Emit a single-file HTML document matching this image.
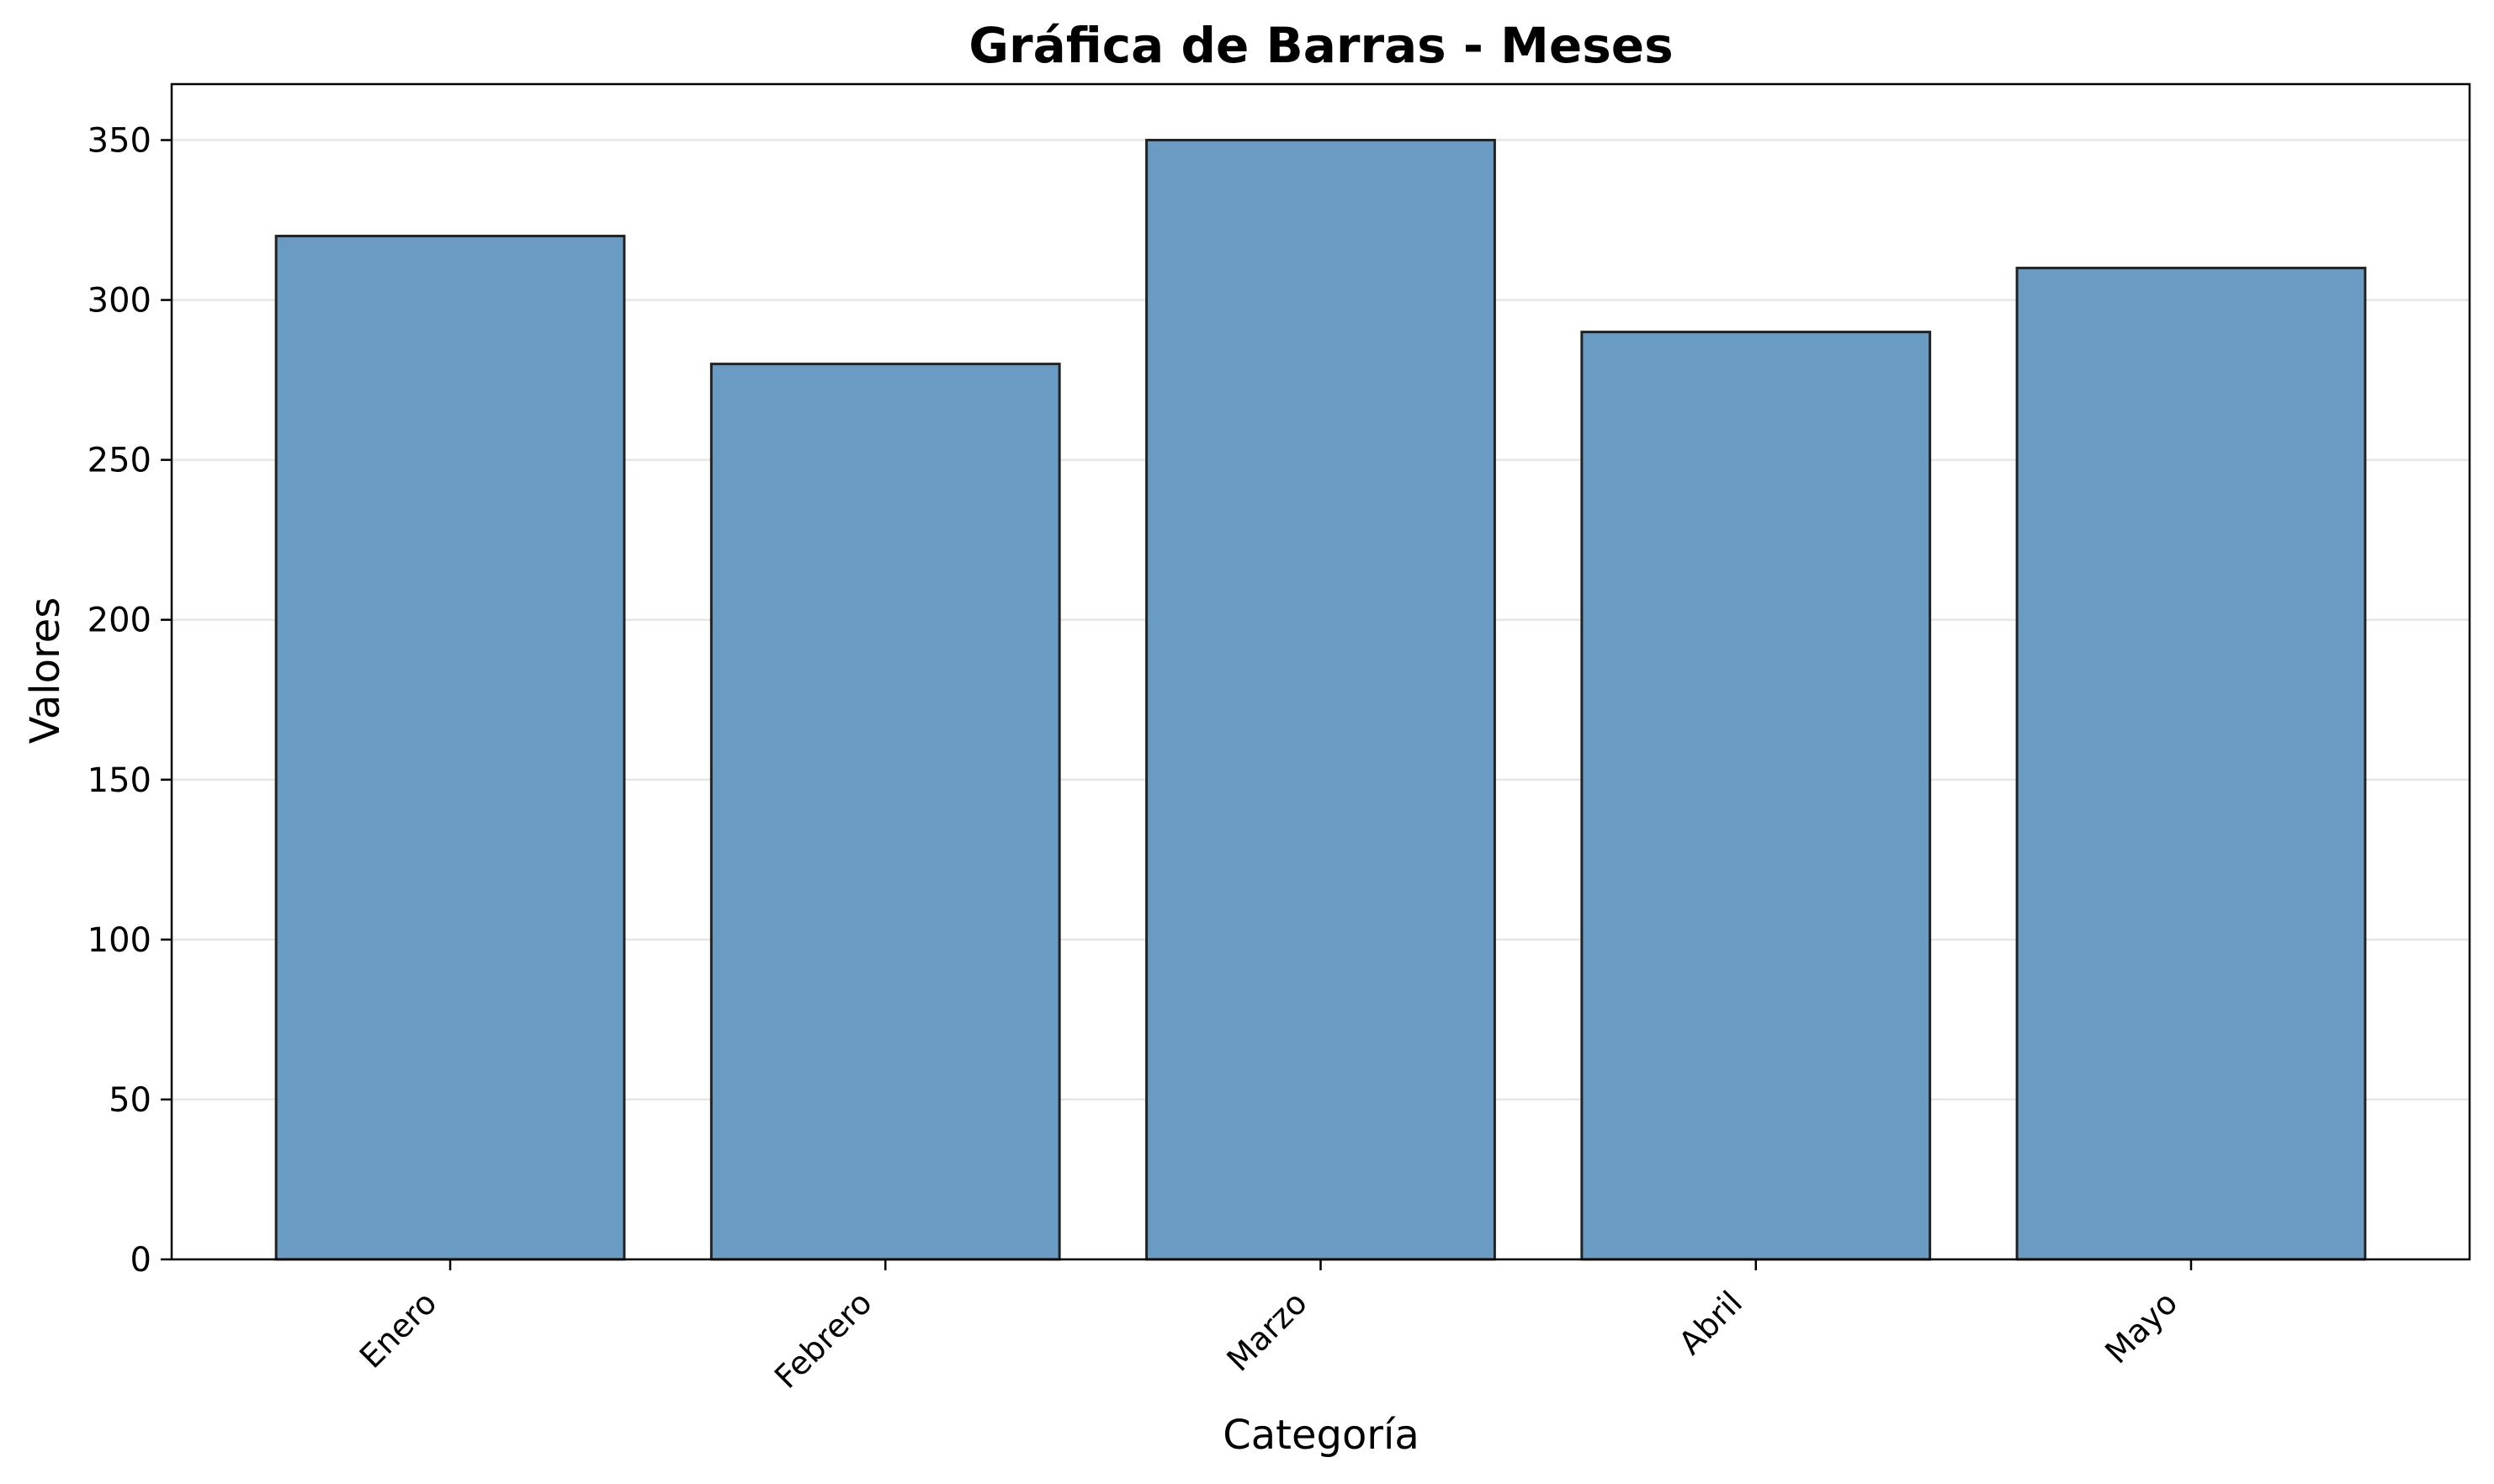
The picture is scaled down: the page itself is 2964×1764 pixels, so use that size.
<!DOCTYPE html>
<html><head><meta charset="utf-8"><style>
html,body{margin:0;padding:0;background:#fff;}
svg{display:block;font-family:"DejaVu Sans","Liberation Sans",sans-serif;}
</style></head><body>
<svg id="chart" width="2964" height="1764" viewBox="0 0 2964 1764" xmlns="http://www.w3.org/2000/svg">
<rect x="0" y="0" width="2964" height="1764" fill="#fff"/>
<text x="1570" y="74" font-size="58" font-weight="bold" text-anchor="middle">Gráfica de Barras - Meses</text>
<g id="grid"></g><g id="bars"></g><g id="axes"></g>
<text x="0" y="0" font-size="48" text-anchor="middle" transform="translate(70,797) rotate(-90)">Valores</text>
<text x="1570" y="1722" font-size="48" text-anchor="middle">Categoría</text>
</svg>
<script>
const categories = ["Enero","Febrero","Marzo","Abril","Mayo"];
const values = [320,280,350,290,310];
const yTicks = [0,50,100,150,200,250,300,350];

const L=204,R=2935,T=100,B=1497;
const yMax=367.5, xMin=-0.64, xMax=4.64;
const ns="http://www.w3.org/2000/svg";
function X(v){return L+(v-xMin)/(xMax-xMin)*(R-L);}
function Y(v){return B-v/yMax*(B-T);}
function mk(tag,attrs,parent){const e=document.createElementNS(ns,tag);for(const k in attrs)e.setAttribute(k,attrs[k]);parent.appendChild(e);return e;}
const grid=document.getElementById('grid'),bars=document.getElementById('bars'),axes=document.getElementById('axes');
yTicks.forEach(t=>{
  const g=mk('line',{x1:L,x2:R,y1:Y(t),y2:Y(t),stroke:'#e6e6e6','stroke-width':2.5},grid);
  
  
  const tk=mk('line',{x1:L-13,x2:L,y1:Y(t),y2:Y(t),stroke:'#000','stroke-width':2.5},axes);
  
  
  const lb=mk('text',{x:L-24,y:Y(t)+14,'font-size':40,'text-anchor':'end'},axes);
  lb.textContent=t;
  
  
});
categories.forEach((c,i)=>{
  const x0=X(i-0.4),x1=X(i+0.4);
  const r=mk('rect',{x:x0,y:Y(values[i]),width:x1-x0,height:B-Y(values[i]),fill:'#6a9bc3',stroke:'#222','stroke-width':3},bars);
  
  
  const tk=mk('line',{x1:X(i),x2:X(i),y1:B,y2:B+13,stroke:'#000','stroke-width':2.5},axes);
  
  
  const lb=mk('text',{x:0,y:0,'font-size':38,'text-anchor':'end',transform:`translate(${X(i)-14},${B+54}) rotate(-45)`},axes);
  lb.textContent=c;
  
  
});
const fr=mk('rect',{x:L,y:T,width:R-L,height:B-T,fill:'none',stroke:'#000','stroke-width':2.5},axes);


</script>
</body></html>
